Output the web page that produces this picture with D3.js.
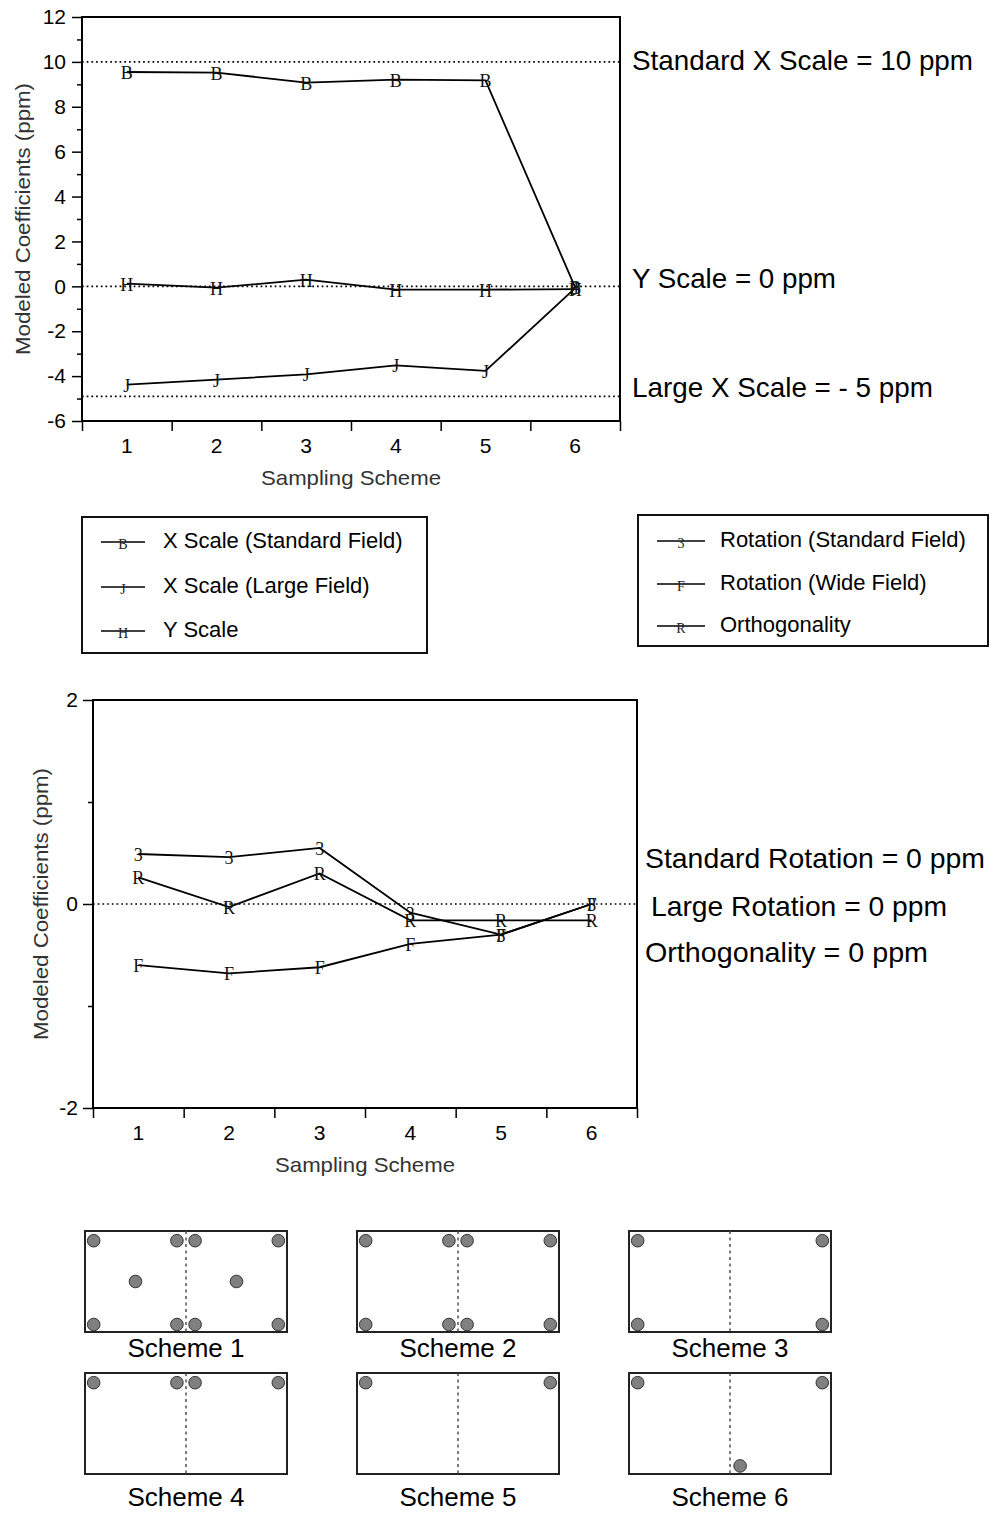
<!DOCTYPE html>
<html>
<head>
<meta charset="utf-8">
<script src="https://cdn.jsdelivr.net/npm/d3@7"></script>
<style>
  body { margin: 0; background: #fff; }
  text { font-family: "Liberation Sans", Arial, sans-serif; }
</style>
</head>
<body>
<div id="canvas"></div>
<script>
// sampling schemes on the x axis
const schemes = [1, 2, 3, 4, 5, 6];

// top chart series (ppm)
const xStdField = [9.55, 9.52, 9.08, 9.21, 9.18, -0.05];
const xLargeField = [-4.38, -4.16, -3.92, -3.52, -3.77, -0.08];
const yScaleVals = [0.12, -0.06, 0.3, -0.15, -0.15, -0.12];

// bottom chart series (ppm)
const rotStd = [0.49, 0.46, 0.55, -0.085, -0.3, 0.0];
const rotWide = [-0.6, -0.68, -0.62, -0.39, -0.3, 0.0];
const ortho = [0.26, -0.03, 0.3, -0.16, -0.16, -0.16];

// ticks
const topMajor = [-6, -4, -2, 0, 2, 4, 6, 8, 10, 12];
const topMinor = [-5, -3, -1, 1, 3, 5, 7, 9, 11];
const botMajor = [-2, 0, 2];
const botMinor = [-1, 1];

// reference (target) lines + their labels
const topRefs = [10, 0, -4.9];
const topRefLabels = ["Standard X Scale = 10 ppm", "Y Scale = 0 ppm", "Large X Scale = - 5 ppm"];
const topRefLabelAt = [10.05, 0.33, -4.52];
const botRefs = [0];
const botRefLabels = ["Standard Rotation = 0 ppm", "Large Rotation = 0 ppm", "Orthogonality = 0 ppm"];
const botRefLabelAt = [0.45, -0.02, -0.48];

// legends
const legendTop = [
  { mark: "B", label: "X Scale (Standard Field)" },
  { mark: "J", label: "X Scale (Large Field)" },
  { mark: "H", label: "Y Scale" }
];
const legendBot = [
  { mark: "3", label: "Rotation (Standard Field)" },
  { mark: "F", label: "Rotation (Wide Field)" },
  { mark: "R", label: "Orthogonality" }
];

// sample sites of each scheme, field coords (0-100 across, 0-50 down)
const schemeSites = [
  [[4.3, 4.8], [45.5, 4.8], [54.5, 4.8], [95.7, 4.8], [25, 25], [75, 25], [4.3, 46.3], [45.5, 46.3], [54.5, 46.3], [95.7, 46.3]],
  [[4.3, 4.8], [45.5, 4.8], [54.5, 4.8], [95.7, 4.8], [4.3, 46.3], [45.5, 46.3], [54.5, 46.3], [95.7, 46.3]],
  [[4.3, 4.8], [95.7, 4.8], [4.3, 46.3], [95.7, 46.3]],
  [[4.3, 4.8], [45.5, 4.8], [54.5, 4.8], [95.7, 4.8]],
  [[4.3, 4.8], [95.7, 4.8]],
  [[4.3, 4.8], [95.7, 4.8], [55, 46]]
];
const schemeNames = schemes.map(d => "Scheme " + d);

const W = 997, H = 1521;
const svg = d3.select("#canvas").append("svg").attr("width", W).attr("height", H);

function chart(opt) {
  const g = svg.append("g");
  const x = d3.scaleBand().domain(schemes).range([opt.left, opt.right]);
  const xe = d3.scaleLinear().domain([0.5, 6.5]).range([opt.left, opt.right]);
  const y = d3.scaleLinear().domain(opt.domain).range([opt.bottom, opt.top]);

  // ref lines
  g.selectAll(".ref").data(opt.refs).enter().append("line")
    .attr("x1", opt.left).attr("x2", opt.right)
    .attr("y1", d => y(d)).attr("y2", d => y(d))
    .attr("stroke", "#000").attr("stroke-width", 1.7)
    .attr("stroke-dasharray", "1.7,3");

  // y axis major / minor
  const ya = g.append("g").attr("transform", `translate(${opt.left},0)`)
    .call(d3.axisLeft(y).tickValues(opt.major).tickSize(10).tickPadding(opt.pad).tickFormat(d => String(d)));
  const ym = g.append("g").attr("transform", `translate(${opt.left},0)`)
    .call(d3.axisLeft(y).tickValues(opt.minor).tickSize(5).tickFormat(""));
  // x axis: labels at centres, ticks at band edges
  const xa = g.append("g").attr("transform", `translate(0,${opt.bottom})`)
    .call(d3.axisBottom(x).tickSize(0).tickPadding(17));
  const xt = g.append("g").attr("transform", `translate(0,${opt.bottom})`)
    .call(d3.axisBottom(xe).tickValues(d3.range(0.5, 7, 1)).tickSize(10).tickFormat(""));
  [ya, ym, xa, xt].forEach(a => {
    a.select(".domain").remove();
    a.selectAll("line").attr("stroke", "#000").attr("stroke-width", 1.5);
    a.selectAll("text").attr("fill", "#000").style("font-size", "21px")
      .style("font-family", '"Liberation Sans", Arial, sans-serif');
  });

  // frame
  g.append("rect")
    .attr("x", opt.left).attr("y", opt.top)
    .attr("width", opt.right - opt.left).attr("height", opt.bottom - opt.top)
    .attr("fill", "none").attr("stroke", "#000").attr("stroke-width", 2);

  // series
  const line = d3.line().x((d, i) => x(schemes[i]) + x.bandwidth() / 2).y(d => y(d));
  opt.series.forEach(s => {
    g.append("path").datum(s.values).attr("d", line)
      .attr("fill", "none").attr("stroke", "#000").attr("stroke-width", 1.8);
  });
  opt.series.forEach(s => {
    g.selectAll(null).data(s.values).enter().append("text")
      .attr("x", (d, i) => x(schemes[i]) + x.bandwidth() / 2)
      .attr("y", d => y(d) + 1)
      .attr("text-anchor", "middle").attr("dominant-baseline", "central")
      .style("font-family", '"Liberation Serif", "Times New Roman", serif')
      .style("font-size", "18px").attr("fill", "#111")
      .text(s.mark);
  });

  // titles
  g.append("text")
    .attr("transform", `translate(${opt.ytx},${(opt.top + opt.bottom) / 2}) rotate(-90)`)
    .attr("text-anchor", "middle").attr("dominant-baseline", "central")
    .style("font-size", "21px").attr("fill", "#333")
    .attr("textLength", 272).attr("lengthAdjust", "spacingAndGlyphs")
    .text("Modeled Coefficients (ppm)");
  g.append("text")
    .attr("x", (opt.left + opt.right) / 2).attr("y", opt.bottom + 56)
    .attr("text-anchor", "middle").attr("dominant-baseline", "central")
    .style("font-size", "21px").attr("fill", "#333")
    .attr("textLength", 180).attr("lengthAdjust", "spacingAndGlyphs")
    .text("Sampling Scheme");

  // ref annotations
  opt.notes.forEach((t, i) => {
    g.append("text")
      .attr("x", opt.noteX[i]).attr("y", y(opt.noteAt[i]))
      .attr("dominant-baseline", "central")
      .style("font-family", '"Liberation Sans Narrow", "Liberation Sans", Arial, sans-serif')
      .style("font-size", "28px").attr("fill", "#000")
      .attr("textLength", opt.noteW[i]).attr("lengthAdjust", "spacingAndGlyphs")
      .text(t);
  });
}

chart({
  left: 82, right: 620, top: 17, bottom: 421, domain: [-6, 12],
  major: topMajor, minor: topMinor, pad: 6, refs: topRefs, ytx: 22,
  series: [
    { mark: "B", values: xStdField },
    { mark: "H", values: yScaleVals },
    { mark: "J", values: xLargeField }
  ],
  notes: topRefLabels, noteAt: topRefLabelAt, noteX: [632, 632, 632], noteW: [341, 204, 301]
});

chart({
  left: 93, right: 637, top: 700, bottom: 1108, domain: [-2, 2],
  major: botMajor, minor: botMinor, pad: 5, refs: botRefs, ytx: 40,
  series: [
    { mark: "3", values: rotStd },
    { mark: "R", values: ortho },
    { mark: "F", values: rotWide }
  ],
  notes: botRefLabels, noteAt: botRefLabelAt, noteX: [645, 651, 645], noteW: [340, 296, 283]
});

// legends
function legend(items, box, lx, tx, rows) {
  const g = svg.append("g");
  g.append("rect").attr("x", box[0]).attr("y", box[1])
    .attr("width", box[2] - box[0]).attr("height", box[3] - box[1])
    .attr("fill", "none").attr("stroke", "#111").attr("stroke-width", 2);
  items.forEach((d, i) => {
    g.append("line").attr("x1", lx[0]).attr("x2", lx[1])
      .attr("y1", rows[i] + 2).attr("y2", rows[i] + 2)
      .attr("stroke", "#000").attr("stroke-width", 1.7);
    g.append("text").attr("x", (lx[0] + lx[1]) / 2).attr("y", rows[i] + 4)
      .attr("text-anchor", "middle").attr("dominant-baseline", "central")
      .style("font-family", '"Liberation Serif", "Times New Roman", serif')
      .style("font-size", "14px").attr("fill", "#222").text(d.mark);
    g.append("text").attr("x", tx).attr("y", rows[i])
      .attr("dominant-baseline", "central")
      .style("font-size", "22px").attr("fill", "#000")
      .text(d.label);
  });
}
legend(legendTop, [82, 517, 427, 653], [101, 145], 163, [540, 585, 629]);
legend(legendBot, [638, 515, 988, 646], [657, 705], 720, [539, 582, 624]);

// scheme diagrams
const boxW = 202, boxH = 101;
const colX = d3.scaleOrdinal().domain([0, 1, 2]).range([85, 357, 629]);
const rowY = d3.scaleOrdinal().domain([0, 1]).range([1231, 1373]);
schemeSites.forEach((sites, k) => {
  const bx = colX(k % 3), by = rowY(Math.floor(k / 3));
  const sx = d3.scaleLinear().domain([0, 100]).range([bx, bx + boxW]);
  const sy = d3.scaleLinear().domain([0, 50]).range([by, by + boxH]);
  const g = svg.append("g");
  g.append("rect").attr("x", bx).attr("y", by).attr("width", boxW).attr("height", boxH)
    .attr("fill", "#fff").attr("stroke", "#222").attr("stroke-width", 2);
  g.append("line").attr("x1", sx(50)).attr("x2", sx(50)).attr("y1", by).attr("y2", by + boxH)
    .attr("stroke", "#444").attr("stroke-width", 1.4).attr("stroke-dasharray", "3,3.5");
  g.selectAll("circle").data(sites).enter().append("circle")
    .attr("cx", d => sx(d[0])).attr("cy", d => sy(d[1])).attr("r", 6.3)
    .attr("fill", "#808080").attr("stroke", "#333").attr("stroke-width", 1);
  g.append("text").attr("x", sx(50)).attr("y", by + boxH + (k < 3 ? 16 : 23))
    .attr("text-anchor", "middle").attr("dominant-baseline", "central")
    .style("font-size", "26px").attr("fill", "#000")
    .text(schemeNames[k]);
});
</script>
</body>
</html>
